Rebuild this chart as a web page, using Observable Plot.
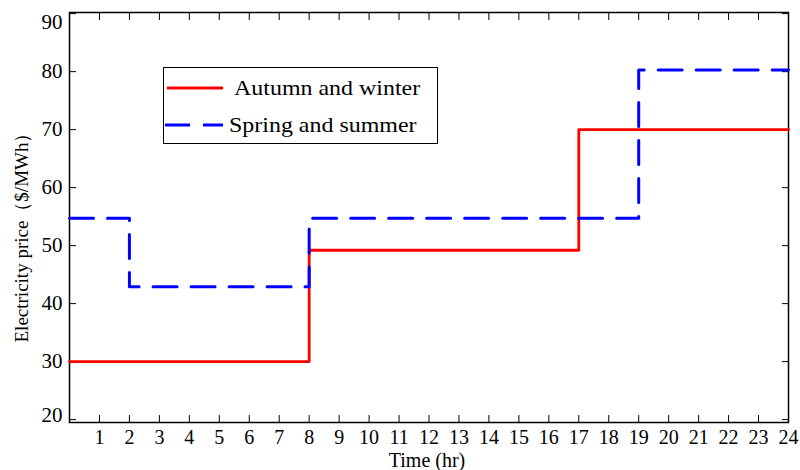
<!DOCTYPE html>
<html>
<head>
<meta charset="utf-8">
<script src="https://cdn.jsdelivr.net/npm/d3@7"></script>
<script src="https://cdn.jsdelivr.net/npm/@observablehq/plot@0.6"></script>
<style>
  html, body { margin: 0; padding: 0; background: #fff; }
  #wrap { position: relative; width: 800px; height: 470px; font-family: "Liberation Serif", "Times New Roman", serif; }
  #legend { position: absolute; left: 163px; top: 67px; width: 275px; height: 77px; border: 1px solid #000; background: #fff; box-sizing: border-box; }
  #legend .row { position: absolute; left: 0; height: 24px; width: 273px; }
  #legend .row span { position: absolute; top: 0; line-height: 24px; font-size: 21px; color: #000; white-space: nowrap; transform-origin: left center; transform: scaleX(1.14); }
  #ylabel { position: absolute; left: 21px; top: 233px; font-size: 19px; color: #000; white-space: nowrap; transform: translate(-50%, -50%) rotate(-90deg); line-height: 1; }
</style>
</head>
<body>
<div id="wrap"></div>
<script>
// Data
const seriesNames = ["Autumn and winter", "Spring and summer"];
const autumnHours = [0, 8, 17, 24];
const autumnPrice = [30, 49.2, 70, 70];
const springHours = [0, 2, 8, 19, 24];
const springPrice = [54.7, 42.9, 54.7, 80.3, 80.3];
const xTicks = d3.range(1, 25);
const yTicks = [20, 30, 40, 50, 60, 70, 80, 90];
const seriesColors = ["#ff0000", "#0000ff"];
const xLabel = "Time (hr)";
const yLabel = "Electricity price（$/MWh）";

const autumn = autumnHours.map((h, i) => ({hour: h, price: autumnPrice[i]}));
const spring = springHours.map((h, i) => ({hour: h, price: springPrice[i]}));
const yMid = yTicks.slice(1, -1);
const yTop = yTicks.slice(-1);
const yBottom = yTicks.slice(0, 1);

const chart = Plot.plot({
  width: 800,
  height: 470,
  marginLeft: 69,
  marginRight: 12,
  marginTop: 12,
  marginBottom: 48,
  style: {fontFamily: "Liberation Serif, Times New Roman, serif", fontSize: "18px", color: "#000", background: "#fff"},
  x: {domain: [0, 24]},
  y: {domain: [19.5, 90.2]},
  marks: [
    Plot.frame({stroke: "#000", strokeWidth: 1.5}),
    Plot.axisX({anchor: "bottom", ticks: xTicks, tickSize: -7, tickPadding: 14, label: null, fontSize: 20}),
    Plot.axisX({anchor: "top", ticks: xTicks, tickSize: -7, tickFormat: () => "", label: null}),
    Plot.axisY({anchor: "left", ticks: yTicks, tickSize: -7, tickFormat: () => "", label: null}),
    Plot.axisY({anchor: "left", ticks: yMid, tickSize: 0, tickPadding: 7, label: null, fontSize: 21}),
    Plot.axisY({anchor: "left", ticks: yTop, tickSize: 0, tickPadding: 7, label: null, fontSize: 21, dy: 9}),
    Plot.axisY({anchor: "left", ticks: yBottom, tickSize: 0, tickPadding: 7, label: null, fontSize: 21, dy: -4}),
    Plot.axisY({anchor: "right", ticks: yTicks, tickSize: -7, tickFormat: () => "", label: null}),
    Plot.text([xLabel], {frameAnchor: "bottom", text: d => d, lineAnchor: "middle", dy: 38, dx: -2, fontSize: 20}),
    Plot.line(autumn, {x: "hour", y: "price", curve: "step-after", stroke: seriesColors[0], strokeWidth: 2.8}),
    Plot.line(spring, {x: "hour", y: "price", curve: "step-after", stroke: seriesColors[1], strokeWidth: 3, strokeDasharray: "24,14"})
  ]
});
const wrap = document.getElementById("wrap");
wrap.appendChild(chart);

// Y axis label
const yl = document.createElement("div");
yl.id = "ylabel";
yl.textContent = yLabel;
wrap.appendChild(yl);

// Legend
const legend = document.createElement("div");
legend.id = "legend";
const rows = [
  {top: 8, sw: 2.8, dash: null, x1: 3, x2: 59, textLeft: 70},
  {top: 45, sw: 3, dash: "25,13", x1: 1, x2: 59, textLeft: 65}
];
const ns = "http://www.w3.org/2000/svg";
rows.forEach((r, i) => {
  const row = document.createElement("div");
  row.className = "row";
  row.style.top = r.top + "px";
  const svg = document.createElementNS(ns, "svg");
  svg.setAttribute("width", 62);
  svg.setAttribute("height", 24);
  svg.style.position = "absolute";
  svg.style.left = "0px";
  const ln = document.createElementNS(ns, "line");
  ln.setAttribute("x1", r.x1);
  ln.setAttribute("x2", r.x2);
  ln.setAttribute("y1", 12);
  ln.setAttribute("y2", 12);
  ln.setAttribute("stroke", seriesColors[i]);
  ln.setAttribute("stroke-width", r.sw);
  if (r.dash) ln.setAttribute("stroke-dasharray", r.dash);
  svg.appendChild(ln);
  row.appendChild(svg);
  const t = document.createElement("span");
  t.textContent = seriesNames[i];
  t.style.left = r.textLeft + "px";
  row.appendChild(t);
  legend.appendChild(row);
});
wrap.appendChild(legend);
</script>
</body>
</html>
